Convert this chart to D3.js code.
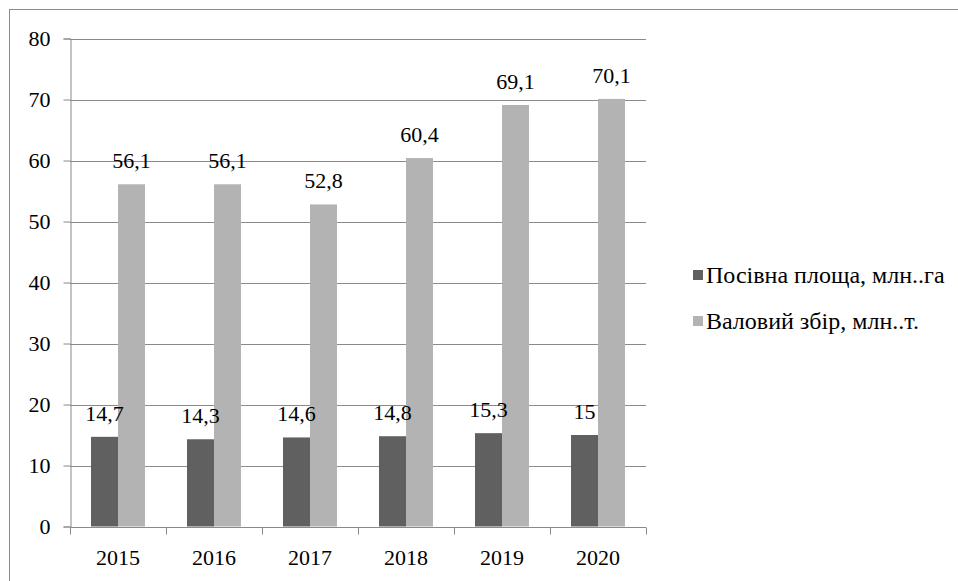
<!DOCTYPE html>
<html>
<head>
<meta charset="utf-8">
<script src="https://cdn.jsdelivr.net/npm/d3@7"></script>
<style>
  body { margin: 0; background: #fff; }
</style>
</head>
<body>
<div id="chart"></div>
<script>
// chart data
var years = ["2015", "2016", "2017", "2018", "2019", "2020"];
var area = [14.7, 14.3, 14.6, 14.8, 15.3, 15];
var harvest = [56.1, 56.1, 52.8, 60.4, 69.1, 70.1];
var seriesNames = ["Посівна площа, млн..га", "Валовий збір, млн..т."];
var seriesColors = ["#606060", "#b3b3b3"];
var yTicks = [0, 10, 20, 30, 40, 50, 60, 70, 80];

var W = 958, H = 581;
var plotLeft = 70, plotRight = 646, plotTop = 38.5, plotBottom = 526.5;
var serif = "'Liberation Serif', 'Times New Roman', serif";

var svg = d3.select("#chart").append("svg")
  .attr("width", W).attr("height", H);

// outer frame
svg.append("rect")
  .attr("x", 9.5).attr("y", 9.5)
  .attr("width", 960).attr("height", 600)
  .attr("fill", "none").attr("stroke", "#8c8c8c");

var x = d3.scaleBand().domain(years).range([plotLeft, plotRight]);
var y = d3.scaleLinear().domain([0, 80]).range([plotBottom, plotTop]);

// gridlines
svg.append("g")
  .selectAll("line")
  .data(yTicks.slice(1))
  .join("line")
  .attr("x1", plotLeft).attr("x2", plotRight)
  .attr("y1", d => Math.round(y(d)) + 0.5)
  .attr("y2", d => Math.round(y(d)) + 0.5)
  .attr("stroke", "#8a8a8a");

// y axis
var yAxis = svg.append("g")
  .attr("transform", "translate(" + (plotLeft + 0.5) + ",0)")
  .call(d3.axisLeft(y).tickValues(yTicks).tickSize(7).tickPadding(13).tickFormat(d3.format("d")));
yAxis.attr("font-family", null).attr("font-size", null);
yAxis.select(".domain").attr("stroke", "#8a8a8a");
yAxis.selectAll(".tick line").attr("stroke", "#8a8a8a");
yAxis.selectAll(".tick text")
  .style("font-family", serif)
  .style("font-size", "22px")
  .attr("fill", "#000");

// x axis
var xAxis = svg.append("g")
  .attr("transform", "translate(0," + (Math.round(plotBottom) + 0.5) + ")");
xAxis.append("line")
  .attr("x1", plotLeft).attr("x2", plotRight)
  .attr("stroke", "#8a8a8a");
xAxis.selectAll("line.tk")
  .data(years.concat(["end"]))
  .join("line")
  .attr("class", "tk")
  .attr("x1", (d, i) => Math.round(plotLeft + i * x.bandwidth()) + 0.5)
  .attr("x2", (d, i) => Math.round(plotLeft + i * x.bandwidth()) + 0.5)
  .attr("y1", 0).attr("y2", 7)
  .attr("stroke", "#8a8a8a");
xAxis.selectAll("text")
  .data(years)
  .join("text")
  .attr("x", d => x(d) + x.bandwidth() / 2)
  .attr("y", 37)
  .attr("text-anchor", "middle")
  .style("font-family", serif)
  .style("font-size", "22px")
  .text(d => d);

// bars
var barW = 27;
var series = [area, harvest];
series.forEach(function (vals, s) {
  svg.append("g")
    .selectAll("rect")
    .data(vals)
    .join("rect")
    .attr("x", (d, i) => x(years[i]) + x.bandwidth() / 2 - barW + s * barW)
    .attr("y", d => y(d))
    .attr("width", barW)
    .attr("height", d => y(0) - y(d))
    .attr("fill", seriesColors[s]);
});

// value labels, drawn over the bars
series.forEach(function (vals, s) {
  svg.append("g")
    .selectAll("text")
    .data(vals)
    .join("text")
    .attr("x", (d, i) => x(years[i]) + x.bandwidth() / 2 - barW / 2 + s * barW)
    .attr("y", d => y(d) - 16)
    .attr("text-anchor", "middle")
    .style("font-family", serif)
    .style("font-size", "22px")
    .text(d => String(d).replace(".", ","));
});

// legend
var legend = svg.append("g").attr("transform", "translate(693,0)");
seriesNames.forEach(function (name, i) {
  var cy = 275 + i * 46;
  legend.append("rect")
    .attr("x", 0).attr("y", cy - 5)
    .attr("width", 10).attr("height", 10)
    .attr("fill", seriesColors[i]);
  legend.append("text")
    .attr("x", 13).attr("y", cy + 8)
    .style("font-family", serif)
    .style("font-size", "24px")
    .text(name);
});
</script>
</body>
</html>
